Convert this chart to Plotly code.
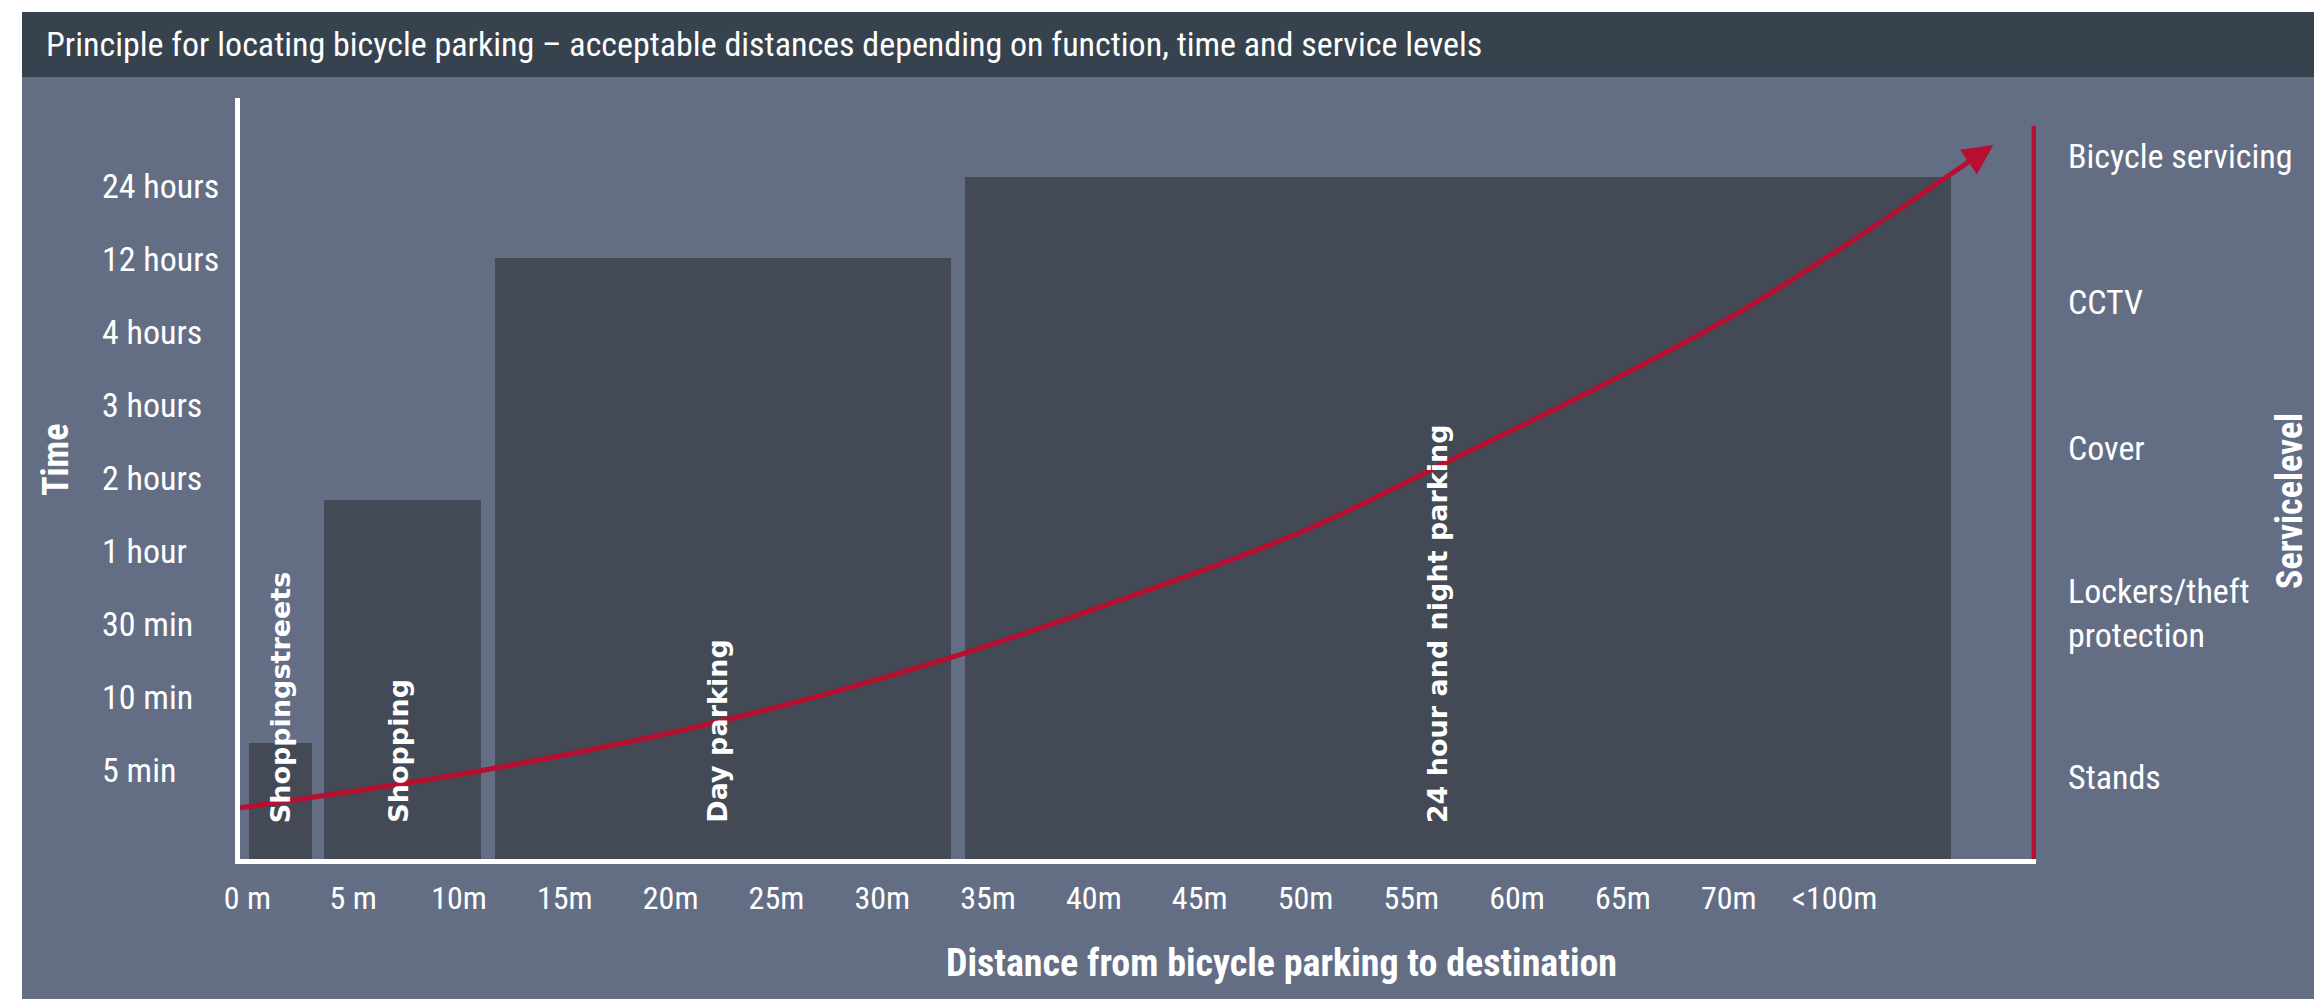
import plotly.graph_objects as go

# ---------------- data ----------------
time_labels = ["5 min", "10 min", "30 min", "1 hour", "2 hours", "3 hours", "4 hours", "12 hours", "24 hours"]
time_levels = [1, 2, 3, 4, 5, 6, 7, 8, 9]

distance_ticks = [0, 5, 10, 15, 20, 25, 30, 35, 40, 45, 50, 55, 60, 65, 70, 75]
distance_labels = ["0 m", "5 m", "10m", "15m", "20m", "25m", "30m", "35m", "40m", "45m",
                   "50m", "55m", "60m", "65m", "70m", "<100m"]

zone_names = ["Shoppingstreets", "Shopping", "Day parking", "24 hour and night parking"]
zone_start = [0.08, 3.6, 11.7, 33.9]      # metres
zone_end = [3.05, 11.05, 33.25, 80.5]     # metres
zone_top = [1.37, 4.70, 8.01, 9.12]       # time level
zone_label_x = [1.6, 7.15, 22.2, 56.25]   # metres

curve_x = [-0.45, 11.2, 22.6, 33.6, 40.3, 49.8, 56.9, 63.9, 70.6, 77.3, 82.5]
curve_y = [0.48, 1.0, 1.685, 2.575, 3.233, 4.26, 5.25, 6.25, 7.29, 8.53, 9.56]

service_levels = ["Stands", "Lockers/theft<br>protection", "Cover", "CCTV", "Bicycle servicing"]
service_pos = [82, 246, 411, 557, 703]   # position on the service-level scale

service_axis_x = 84.43
service_axis_top = 9.82

# ---------------- style ----------------
W, H = 2314, 999
ML, MR, MT, MB = 240, 278, 98, 140
PW = W - ML - MR
PH = H - MT - MB
BG = "#636e85"
BAR = "#434955"
TITLEBAR = "#36434e"
RED = "#b80e30"
WHITE = "#ffffff"
COND = "Liberation Sans Narrow, Arial Narrow, Roboto Condensed, sans-serif"
BOLD = "DejaVu Sans, Verdana, sans-serif"

XR = [-0.35, 84.52]
YR = [-0.219, 10.205]
Y2R = [0, PH]


def px(xp):
    return (xp - ML) / PW


def py(yp):
    return (H - MB - yp) / PH


fig = go.Figure()

# zones as bars
centers = [(s + e) / 2 for s, e in zip(zone_start, zone_end)]
widths = [e - s for s, e in zip(zone_start, zone_end)]
fig.add_trace(go.Bar(
    x=centers, width=widths,
    y=[t - YR[0] for t in zone_top], base=YR[0],
    marker=dict(color=BAR, line=dict(width=0)),
    hoverinfo="skip", showlegend=False,
))

# curve
fig.add_trace(go.Scatter(
    x=curve_x[:-1], y=curve_y[:-1], mode="lines",
    line=dict(color=RED, width=5, shape="spline", smoothing=1.0),
    hoverinfo="skip", showlegend=False,
))
# invisible trace on y2 to activate it
fig.add_trace(go.Scatter(x=[XR[0]], y=[Y2R[0]], yaxis="y2", mode="markers",
                         marker=dict(opacity=0), hoverinfo="skip", showlegend=False))

annotations = []
# arrow head
annotations.append(dict(
    x=curve_x[-1], y=curve_y[-1], ax=curve_x[-2], ay=curve_y[-2],
    xref="x", yref="y", axref="x", ayref="y", text="", showarrow=True,
    arrowhead=2, arrowsize=1.2, arrowwidth=5, arrowcolor=RED, standoff=0,
))

# zone labels
for name, lx in zip(zone_names, zone_label_x):
    annotations.append(dict(
        x=lx, y=0.247, xref="x", yref="y", text="<b>%s</b>" % name, showarrow=False,
        textangle=-90, xanchor="center", yanchor="bottom",
        font=dict(family=BOLD, size=27, color=WHITE),
    ))

# y tick labels (left aligned)
for lab, lv in zip(time_labels, time_levels):
    annotations.append(dict(
        x=px(100), y=lv, xref="paper", yref="y", text=lab, showarrow=False,
        xanchor="left", yanchor="middle",
        font=dict(family=COND, size=34, color=WHITE),
    ))

# service levels
for lab, lv in zip(service_levels, service_pos):
    annotations.append(dict(
        x=px(2066), y=lv, xref="paper", yref="y2", text=lab, showarrow=False,
        xanchor="left", yanchor="middle", align="left",
        font=dict(family=COND, size=34, color=WHITE),
    ))

# axis titles
annotations.append(dict(
    x=px(56), y=py(460), xref="paper", yref="paper", text="<b>Time</b>", showarrow=False,
    textangle=-90, xanchor="center", yanchor="middle",
    font=dict(family=COND, size=36, color=WHITE),
))
annotations.append(dict(
    x=px(2290), y=py(501), xref="paper", yref="paper", text="<b>Servicelevel</b>", showarrow=False,
    textangle=-90, xanchor="center", yanchor="middle",
    font=dict(family=COND, size=36, color=WHITE),
))
annotations.append(dict(
    x=px(1281), y=py(963), xref="paper", yref="paper",
    text="<b>Distance from bicycle parking to destination</b>", showarrow=False,
    xanchor="center", yanchor="middle",
    font=dict(family=COND, size=38, color=WHITE),
))
# title
annotations.append(dict(
    x=px(44), y=py(44), xref="paper", yref="paper",
    text="Principle for locating bicycle parking \u2013 acceptable distances depending on function, time and service levels",
    showarrow=False, xanchor="left", yanchor="middle",
    font=dict(family=COND, size=34, color=WHITE),
))

shapes = [
    # white page margins
    dict(type="rect", xref="paper", yref="paper", x0=px(0), x1=px(22), y0=py(H), y1=py(0),
         fillcolor=WHITE, line=dict(width=0), layer="below"),
    dict(type="rect", xref="paper", yref="paper", x0=px(0), x1=px(W), y0=py(12), y1=py(0),
         fillcolor=WHITE, line=dict(width=0), layer="below"),
    # title bar
    dict(type="rect", xref="paper", yref="paper", x0=px(22), x1=px(W), y0=py(77), y1=py(12),
         fillcolor=TITLEBAR, line=dict(width=0), layer="below"),
    # service level axis (red)
    dict(type="line", xref="x", yref="y", x0=service_axis_x, x1=service_axis_x,
         y0=YR[0], y1=service_axis_top, line=dict(color=RED, width=5), layer="above"),
]

fig.update_layout(
    width=W, height=H,
    margin=dict(l=ML, r=MR, t=MT, b=MB, pad=0),
    paper_bgcolor=BG, plot_bgcolor="rgba(0,0,0,0)",
    showlegend=False,
    bargap=0,
    xaxis=dict(range=XR, tickvals=distance_ticks, ticktext=distance_labels,
               showgrid=False, zeroline=False, showline=True, linecolor=WHITE, linewidth=5,
               ticks="", ticklabelstandoff=7,
               tickfont=dict(family=COND, size=32, color=WHITE), fixedrange=True),
    yaxis=dict(range=YR, showgrid=False, zeroline=False, showline=True, linecolor=WHITE,
               linewidth=5, ticks="", showticklabels=False, fixedrange=True),
    yaxis2=dict(range=Y2R, overlaying="y", side="right", visible=False, fixedrange=True),
    annotations=annotations,
    shapes=shapes,
)

fig.write_html("out.html")
